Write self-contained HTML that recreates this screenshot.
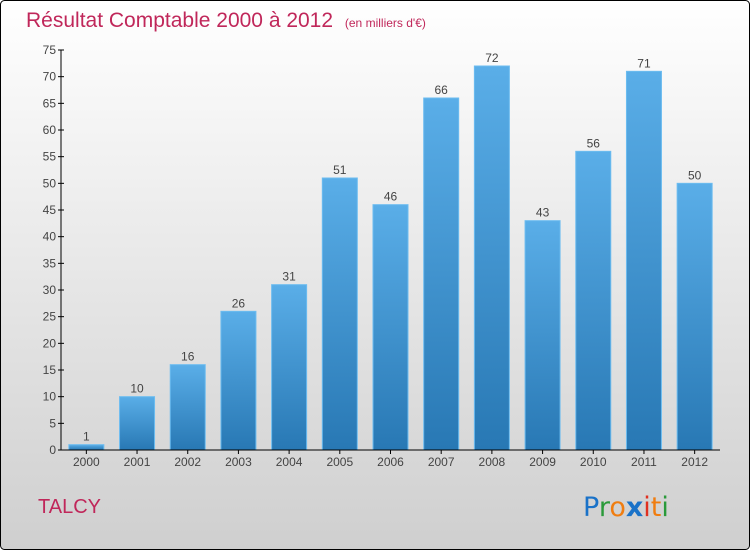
<!DOCTYPE html>
<html><head><meta charset="utf-8"><style>
body{margin:0;width:750px;height:550px;overflow:hidden;font-family:"Liberation Sans",sans-serif}
</style></head><body>
<svg width="750" height="550" xmlns="http://www.w3.org/2000/svg">
<defs>
<linearGradient id="bg" x1="0" y1="0" x2="0" y2="1"><stop offset="0" stop-color="#ffffff"/><stop offset="1" stop-color="#cfcfcf"/></linearGradient>
<linearGradient id="bar" x1="0" y1="0" x2="0" y2="1"><stop offset="0" stop-color="#5aaee8"/><stop offset="1" stop-color="#2878b4"/></linearGradient>
</defs>
<rect x="0.5" y="0.5" width="749" height="549" rx="4" fill="url(#bg)" stroke="#000"/>
<text x="26" y="27" font-size="21" fill="#c0275a">Résultat Comptable 2000 à 2012 <tspan font-size="12" dx="6">(en milliers d'€)</tspan></text>
<g id="yaxis"></g>
<g id="bars"></g>
<g id="xaxis"></g>
<text x="38" y="513" font-size="20" fill="#c0275a">TALCY</text>
<text x="583" y="516" font-size="27" font-family="'DejaVu Sans',sans-serif"><tspan fill="#1a72c8">P</tspan><tspan fill="#2a9a3a">r</tspan><tspan fill="#f07d10">o</tspan><tspan fill="#1a72c8" font-weight="bold">x</tspan><tspan fill="#e03020">i</tspan><tspan fill="#f07d10">t</tspan><tspan fill="#2a9a3a">i</tspan></text>
</svg>
<script>
const categories=["2000","2001","2002","2003","2004","2005","2006","2007","2008","2009","2010","2011","2012"];
const values=[1,10,16,26,31,51,46,66,72,43,56,71,50];
const yTicks=[0,5,10,15,20,25,30,35,40,45,50,55,60,65,70,75];
const NS="http://www.w3.org/2000/svg";
const x0=61,x1=720,y0=450,yTop=50,yMax=75;
const band=(x1-x0)/categories.length;
const yS=v=>y0-(v/yMax)*(y0-yTop);
const xC=i=>x0+band*(i+0.5);
function mk(t,a,p){const e=document.createElementNS(NS,t);for(const k in a)e.setAttribute(k,a[k]);p.appendChild(e);return e;}
const ya=document.getElementById('yaxis'),ba=document.getElementById('bars'),xa=document.getElementById('xaxis');
const al=mk('line',{x1:x0,y1:yTop,x2:x0,y2:y0,stroke:'#000'},ya);


yTicks.forEach(v=>{
 const y=yS(v);
 const tk=mk('line',{x1:x0-3,y1:y,x2:x0+3,y2:y,stroke:'#000'},ya);
 
 
 const t=mk('text',{x:x0-5,y:y+4,'font-size':12,'text-anchor':'end',fill:'#444'},ya);
 t.textContent=v;
 
 
});
const xl=mk('line',{x1:x0,y1:y0,x2:x1,y2:y0,stroke:'#000'},xa);


categories.forEach((c,i)=>{
 const cx=xC(i),v=values[i],w=35;
 const r=mk('rect',{x:cx-w/2,y:yS(v),width:w,height:y0-yS(v),fill:'url(#bar)',stroke:'#6cbcf0','stroke-width':1},ba);
 
 
 const l=mk('text',{x:cx,y:yS(v)-4,'font-size':12,'text-anchor':'middle',fill:'#444'},ba);
 l.textContent=v;
 
 
 const tk=mk('line',{x1:cx,y1:y0,x2:cx,y2:y0+4,stroke:'#000'},xa);
 
 
 const t=mk('text',{x:cx,y:y0+16,'font-size':12,'text-anchor':'middle',fill:'#444'},xa);
 t.textContent=c;
 
 
});
</script>
</body></html>
